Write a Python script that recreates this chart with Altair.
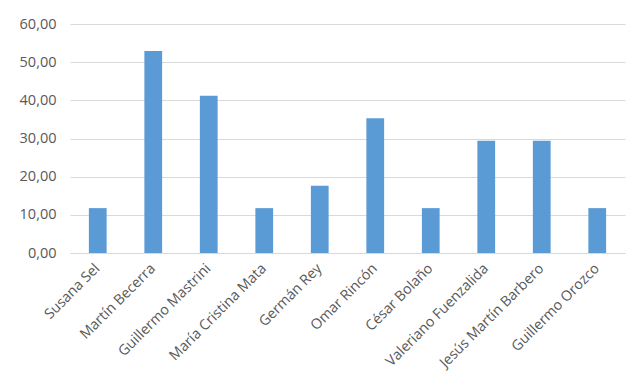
import altair as alt
import pandas as pd

names = ["Susana Sel", "Martín Becerra", "Guillermo Mastrini", "María Cristina Mata",
         "Germán Rey", "Omar Rincón", "César Bolaño", "Valeriano Fuenzalida",
         "Jesús Martín Barbero", "Guillermo Orozco"]
values = [11.76, 52.94, 41.18, 11.76, 17.65, 35.29, 11.76, 29.41, 29.41, 11.76]

df = pd.DataFrame({"name": names, "value": values})

chart = alt.Chart(df).mark_bar(color="#5B9BD5").encode(
    x=alt.X("name:N", sort=names, title=None,
            scale=alt.Scale(paddingInner=0.68, paddingOuter=0.34),
            axis=alt.Axis(labelAngle=-45, labelAlign="right", labelBaseline="middle",
                          labelFont="Open Sans", labelFontSize=14.3, labelColor="#595959",
                          ticks=False, domainColor="#D9D9D9", labelPadding=13,
                          labelOverlap=False)),
    y=alt.Y("value:Q", title=None,
            scale=alt.Scale(domain=[0, 60]),
            axis=alt.Axis(values=[0, 10, 20, 30, 40, 50, 60],
                          labelExpr="replace(format(datum.value, '.2f'), '.', ',')",
                          labelFont="Open Sans", labelFontSize=14.5, labelColor="#595959",
                          ticks=False, domain=False, gridColor="#D9D9D9", labelPadding=14)),
).properties(
    width=555, height=229,
    autosize=alt.AutoSizeParams(type="none"),
    padding={"left": 70, "top": 24, "right": 17, "bottom": 124},
).configure_view(stroke=None)

chart.save("out.html", embed_options={"renderer": "svg", "actions": False})
